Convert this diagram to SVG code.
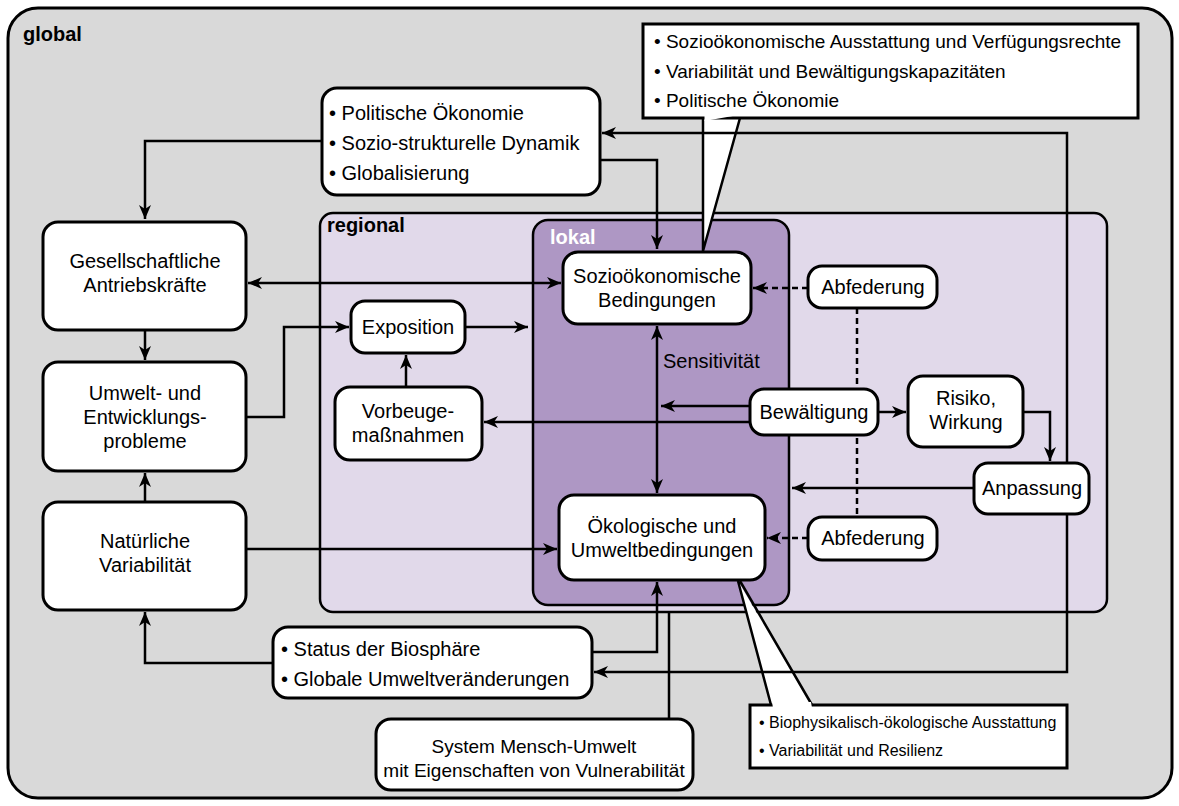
<svg xmlns="http://www.w3.org/2000/svg" width="1179" height="806" viewBox="0 0 1179 806">
<defs>
<style>
.t{font-family:"Liberation Sans",Arial,Helvetica,sans-serif;font-size:20px;fill:#000}
.c{text-anchor:middle}
.s{font-size:19px}
.xs{font-size:16px}
.m{font-size:19px}
.b{font-weight:bold}
.node{fill:#fff;stroke:#000;stroke-width:3}
.ln{fill:none;stroke:#000;stroke-width:2.5}
.dash{stroke-dasharray:6 4}
.ptr{fill:#fff;stroke:none}
.pe{fill:none;stroke:#000;stroke-width:2.5}
</style>
<marker id="ah" viewBox="0 0 14 12" refX="14" refY="6" markerWidth="14" markerHeight="12" markerUnits="userSpaceOnUse" orient="auto-start-reverse">
<path d="M0,0 L14,6 L0,12 L4,6 Z" fill="#000"/>
</marker>
</defs>

<g id="containers">
<rect x="8" y="8" width="1164" height="790" rx="30" fill="#d9d9d9" stroke="#000" stroke-width="3"/>
<text class="t b" x="23" y="41">global</text>
<rect x="320" y="213" width="787" height="399" rx="13" fill="#e1d9ea" stroke="#000" stroke-width="2.5"/>
<text class="t b" x="327" y="232">regional</text>
<rect x="533" y="220" width="256" height="385" rx="15" fill="#ae97c4" stroke="#000" stroke-width="2.5"/>
<text class="t b" x="550" y="244" style="fill:#fff">lokal</text>
</g>

<g id="callout-pointers">
<path class="ptr" d="M703,116 L740,116 L703,251 Z"/>
<path class="pe" d="M703,118 V251 M740,118 L703,251"/>
<path class="ptr" d="M738,581 L771,707 L812,707 Z"/>
<path class="pe" d="M738,581 L771,705 M740,581 L812,705"/>
</g>

<g id="connectors">
<path class="ln" d="M322,141 H145 V219" marker-end="url(#ah)"/>
<path class="ln" d="M602,133 H1067 V672 H594" marker-start="url(#ah)" marker-end="url(#ah)"/>
<path class="ln" d="M600,160 H657 V249" marker-end="url(#ah)"/>
<path class="ln" d="M248,283 H561" marker-start="url(#ah)" marker-end="url(#ah)"/>
<path class="ln" d="M145,330 V360" marker-end="url(#ah)"/>
<path class="ln" d="M145,502 V473" marker-end="url(#ah)"/>
<path class="ln" d="M246,417 H284 V327 H349" marker-end="url(#ah)"/>
<path class="ln" d="M465,327 H528" marker-end="url(#ah)"/>
<path class="ln" d="M406,387 V355" marker-end="url(#ah)"/>
<path class="ln" d="M750,422 H484" marker-end="url(#ah)"/>
<path class="ln" d="M750,406 H661" marker-end="url(#ah)"/>
<path class="ln" d="M657,326 V493" marker-start="url(#ah)" marker-end="url(#ah)"/>
<path class="ln dash" d="M808,288 H753" marker-end="url(#ah)"/>
<path class="ln dash" d="M808,538 H767" marker-end="url(#ah)"/>
<path class="ln dash" d="M857,308 V517"/>
<path class="ln" d="M878,412 H906" marker-end="url(#ah)"/>
<path class="ln" d="M1023,412 H1050 V461" marker-end="url(#ah)"/>
<path class="ln" d="M974,488 H792" marker-end="url(#ah)"/>
<path class="ln" d="M246,549 H557" marker-end="url(#ah)"/>
<path class="ln" d="M273,663 H145 V612" marker-end="url(#ah)"/>
<path class="ln" d="M592,652 H657 V582" marker-end="url(#ah)"/>
<path class="ln" d="M669,612 V719"/>
<text class="t" x="663" y="368">Sensitivität</text>
</g>

<g id="n-politik">
<rect class="node" x="322" y="88" width="278" height="107" rx="15"/>
<text class="t" x="329" y="120">• Politische Ökonomie</text>
<text class="t" x="329" y="150">• Sozio-strukturelle Dynamik</text>
<text class="t" x="329" y="180">• Globalisierung</text>
</g>

<g id="n-callout-top">
<rect x="643" y="24" width="495" height="94" fill="#fff" stroke="#000" stroke-width="3"/>
<path class="ptr" d="M704.5,115 L738.5,115 L704.5,121 Z"/>
<text class="t s" x="654" y="48">• Sozioökonomische Ausstattung und Verfügungsrechte</text>
<text class="t s" x="654" y="78">• Variabilität und Bewältigungskapazitäten</text>
<text class="t s" x="654" y="107">• Politische Ökonomie</text>
</g>

<g id="n-gesellschaft">
<rect class="node" x="43" y="222" width="203" height="108" rx="15"/>
<text class="t c" x="145" y="268">Gesellschaftliche</text>
<text class="t c" x="145" y="292">Antriebskräfte</text>
</g>

<g id="n-umwelt">
<rect class="node" x="43" y="362" width="203" height="109" rx="15"/>
<text class="t c" x="145" y="400">Umwelt- und</text>
<text class="t c" x="145" y="424">Entwicklungs-</text>
<text class="t c" x="145" y="448">probleme</text>
</g>

<g id="n-natur">
<rect class="node" x="43" y="502" width="203" height="108" rx="15"/>
<text class="t c" x="145" y="548">Natürliche</text>
<text class="t c" x="145" y="572">Variabilität</text>
</g>

<g id="n-sozio">
<rect class="node" x="563" y="252" width="188" height="72" rx="15"/>
<text class="t c" x="657" y="283">Sozioökonomische</text>
<text class="t c" x="657" y="307">Bedingungen</text>
</g>

<g id="n-exposition">
<rect class="node" x="351" y="301" width="114" height="52" rx="14"/>
<text class="t c" x="408" y="334">Exposition</text>
</g>

<g id="n-vorbeuge">
<rect class="node" x="335" y="387" width="147" height="73" rx="15"/>
<text class="t c" x="408" y="418">Vorbeuge-</text>
<text class="t c" x="408" y="442">maßnahmen</text>
</g>

<g id="n-abfederung-1">
<rect class="node" x="808" y="266" width="129" height="42" rx="14"/>
<text class="t c" x="873" y="294">Abfederung</text>
</g>

<g id="n-bewaeltigung">
<rect class="node" x="750" y="389" width="128" height="46" rx="14"/>
<text class="t c" x="814" y="419">Bewältigung</text>
</g>

<g id="n-risiko">
<rect class="node" x="908" y="376" width="115" height="71" rx="15"/>
<text class="t c" x="966" y="405">Risiko,</text>
<text class="t c" x="966" y="429">Wirkung</text>
</g>

<g id="n-anpassung">
<rect class="node" x="974" y="463" width="115" height="51" rx="14"/>
<text class="t c" x="1032" y="495">Anpassung</text>
</g>

<g id="n-abfederung-2">
<rect class="node" x="808" y="517" width="129" height="43" rx="14"/>
<text class="t c" x="873" y="545">Abfederung</text>
</g>

<g id="n-oeko">
<rect class="node" x="559" y="495" width="206" height="85" rx="15"/>
<text class="t c" x="662" y="533">Ökologische und</text>
<text class="t c" x="662" y="557">Umweltbedingungen</text>
</g>

<g id="n-status">
<rect class="node" x="273" y="627" width="319" height="71" rx="15"/>
<text class="t" x="281" y="656">• Status der Biosphäre</text>
<text class="t" x="281" y="686">• Globale Umweltveränderungen</text>
</g>

<g id="n-system">
<rect class="node" x="376" y="719" width="317" height="71" rx="15"/>
<text class="t c m" x="534" y="753">System Mensch-Umwelt</text>
<text class="t c m" x="534" y="777">mit Eigenschaften von Vulnerabilität</text>
</g>

<g id="n-callout-bottom">
<rect x="750" y="705" width="317" height="63" fill="#fff" stroke="#000" stroke-width="3"/>
<path class="ptr" d="M772,702 L811,702 L812,708 L773,708 Z"/>
<text class="t xs" x="759" y="728">• Biophysikalisch-ökologische Ausstattung</text>
<text class="t xs" x="759" y="756">• Variabilität und Resilienz</text>
</g>
</svg>
